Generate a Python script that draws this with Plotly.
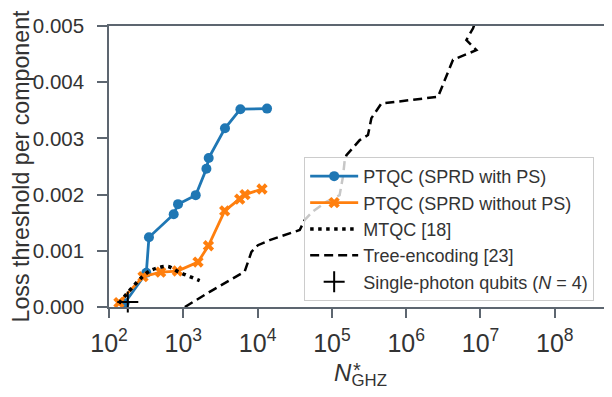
import plotly.graph_objects as go

# PTQC (SPRD with PS)
ptqc_ps_x = [162, 318, 345, 743, 849, 1469, 2047, 2198, 3640, 5866, 13400]
ptqc_ps_y = [0.000066, 0.00061, 0.00124, 0.00165, 0.00183, 0.00199, 0.00246, 0.00265, 0.00318, 0.00352, 0.00353]

# PTQC (SPRD without PS)
ptqc_nops_x = [136, 287, 496, 834, 1578, 2178, 3606, 5740, 6760, 11460]
ptqc_nops_y = [0.000077, 0.00054, 0.00062, 0.00064, 0.00080, 0.00109, 0.00171, 0.00192, 0.00200, 0.00210]

# MTQC [18]
mtqc_x = [136, 318, 434, 622, 849, 1663]
mtqc_y = [0.000066, 0.00060, 0.00069, 0.00072, 0.00063, 0.00047]

# Tree-encoding [23]
tree_x = [1050, 2265, 6700, 8260, 10100, 14550, 36900, 43100, 55200, 84000, 127000,
          141000, 149000, 157000, 237000, 306000, 340000, 463000, 2.68e6, 4.27e6,
          8.8e6, 6.46e6, 7.94e6, 9.8e6]
tree_y = [0.0, 0.00027, 0.00063, 0.00098, 0.00110, 0.00119, 0.00137, 0.00155, 0.00170,
          0.00187, 0.00199, 0.00232, 0.00262, 0.00270, 0.00297, 0.00306, 0.00336, 0.00362,
          0.00374, 0.00440, 0.00457, 0.00475, 0.00496, 0.00530]

# Single-photon qubits (N = 4)
sp_x = [179]
sp_y = [0.00009]

y_ticks = [0, 0.001, 0.002, 0.003, 0.004, 0.005]
y_tick_labels = ["0.000", "0.001", "0.002", "0.003", "0.004", "0.005"]

BLUE = "#1f77b4"
ORANGE = "#ff7f0e"
AX = "#5d6670"
TXT = "#333333"
FONT = "Arial, Liberation Sans, Helvetica, sans-serif"

fig = go.Figure()
fig.add_trace(go.Scatter(
    x=ptqc_ps_x, y=ptqc_ps_y, mode="lines+markers", name="PTQC (SPRD with PS)",
    line=dict(color=BLUE, width=2.8), marker=dict(symbol="circle", size=10, color=BLUE),
    cliponaxis=False))
fig.add_trace(go.Scatter(
    x=ptqc_nops_x, y=ptqc_nops_y, mode="lines+markers", name="PTQC (SPRD without PS)",
    line=dict(color=ORANGE, width=2.8),
    marker=dict(symbol="x", size=10, color=ORANGE, line=dict(width=0)),
    cliponaxis=False))
fig.add_trace(go.Scatter(
    x=mtqc_x, y=mtqc_y, mode="lines", name="MTQC [18]",
    line=dict(color="black", width=3.6, dash="3.5px,4.5px"), line_shape="spline"))
fig.add_trace(go.Scatter(
    x=tree_x, y=tree_y, mode="lines", name="Tree-encoding [23]",
    line=dict(color="black", width=2.5, dash="9px,5px")))
fig.add_trace(go.Scatter(
    x=sp_x, y=sp_y, mode="markers", name="Single-photon qubits (<i>N</i> = 4)",
    marker=dict(symbol="cross-thin", size=15, color="black", line=dict(width=2, color="black")),
    cliponaxis=False))

fig.update_layout(
    width=612, height=397,
    margin=dict(l=101, r=8, t=18, b=98),
    paper_bgcolor="white", plot_bgcolor="white",
    font=dict(family=FONT, color=TXT, size=20),
    showlegend=True,
    legend=dict(
        x=0.388, y=0.534, xanchor="left", yanchor="top",
        bgcolor="rgba(255,255,255,0.78)", bordercolor="#cccccc", borderwidth=1,
        font=dict(size=18, color=TXT, family=FONT),
        itemwidth=48, tracegroupgap=0,
    ),
)
fig.update_xaxes(
    type="log", range=[2, 8.77], dtick=1, exponentformat="power",
    showgrid=False, zeroline=False, automargin=False,
    showline=True, linecolor=AX, linewidth=1.5, mirror=True,
    ticks="outside", ticklen=9, tickwidth=1.5, tickcolor=AX, ticklabelstandoff=5,
    tickfont=dict(size=20, color=TXT),
    title=dict(text="<i>N</i><sub>GHZ</sub>", font=dict(size=24, color=TXT), standoff=8),
)
fig.update_yaxes(
    range=[0, 0.005], tickvals=y_ticks, ticktext=y_tick_labels,
    showgrid=False, zeroline=False, automargin=False,
    showline=True, linecolor=AX, linewidth=1.5,
    ticks="outside", ticklen=10, tickwidth=1.5, tickcolor=AX, ticklabelstandoff=9,
    tickfont=dict(size=20.5, color=TXT),
    title=dict(text="Loss threshold per component", font=dict(size=23.2, color=TXT), standoff=0),
)
fig.add_annotation(
    text="*", xref="paper", yref="paper", x=0.482, y=-0.224, showarrow=False,
    font=dict(size=20, color=TXT, family=FONT), xanchor="left", yanchor="middle")

fig.write_html("out.html")
